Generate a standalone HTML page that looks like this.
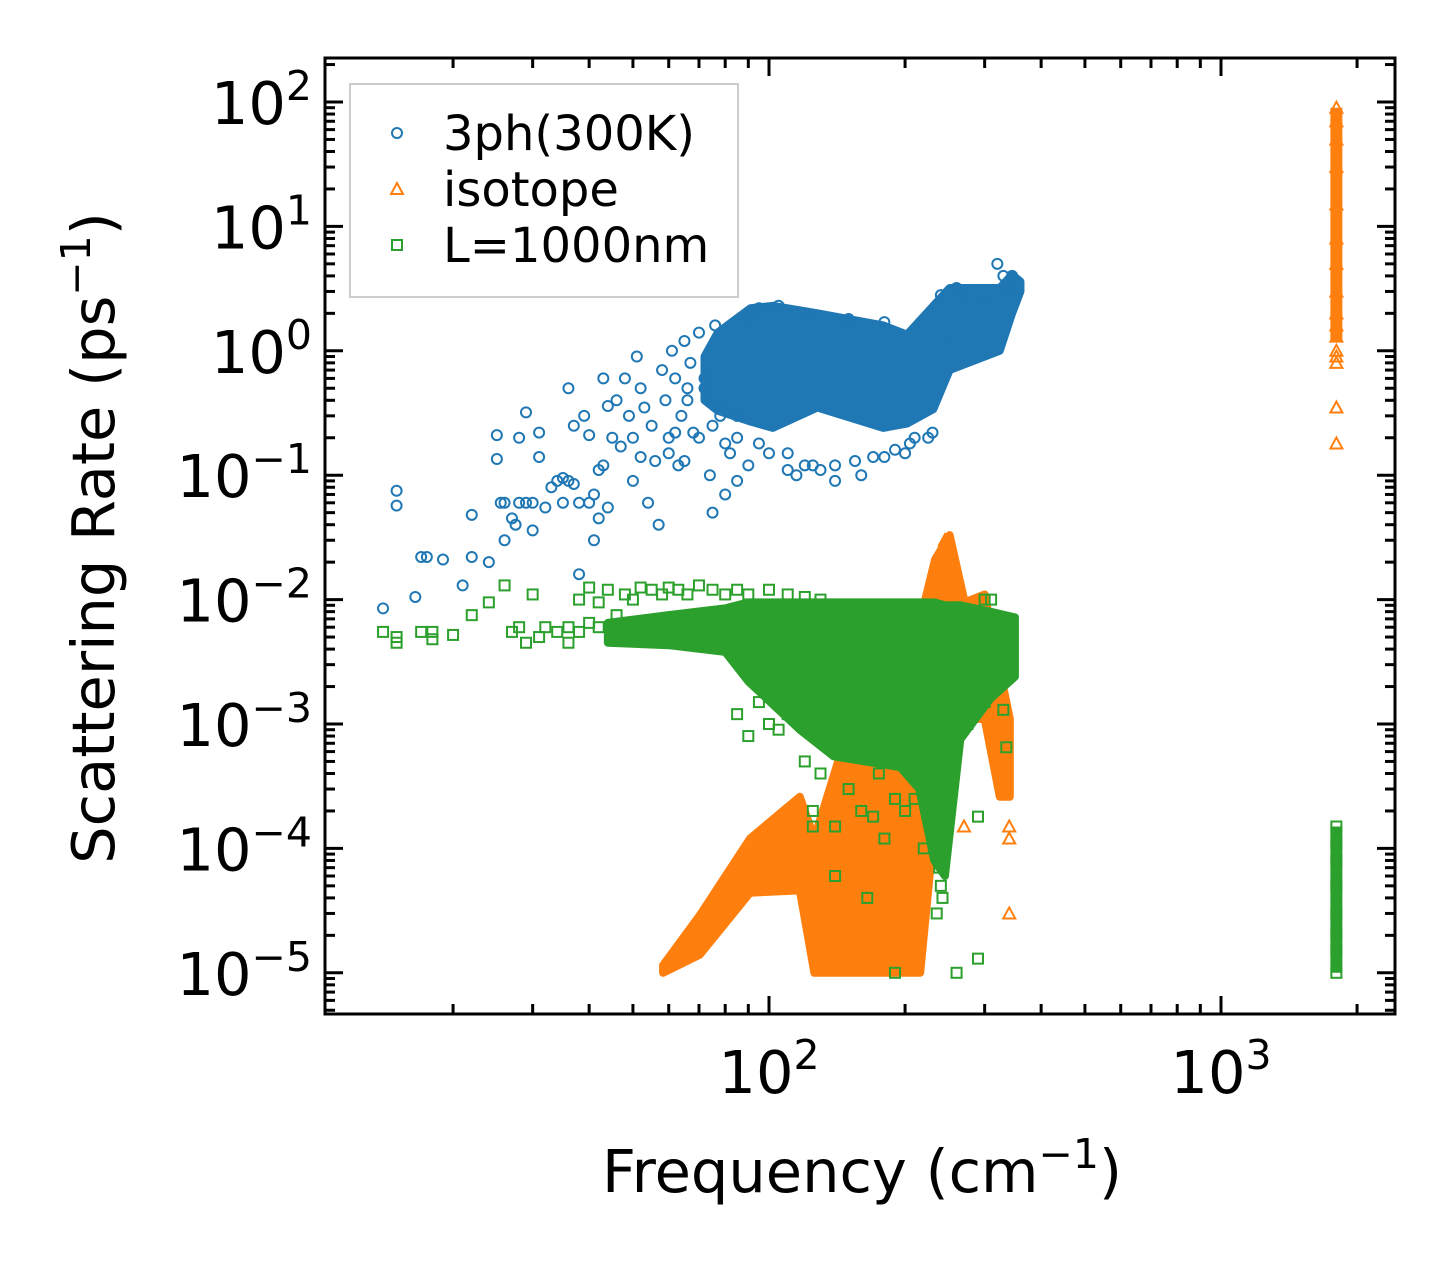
<!DOCTYPE html>
<html><head><meta charset="utf-8"><style>
body{margin:0;background:#fff}
svg text{font-family:"DejaVu Sans","Liberation Sans",sans-serif}
</style></head><body>
<svg id="chart" width="1455" height="1265" xmlns="http://www.w3.org/2000/svg">
<g id="orange-layer"></g>
<g id="blue-layer"></g>
<g id="green-layer"></g>
<g id="axes"></g>
<g>
<rect x="350" y="84" width="388" height="213" fill="#fff" fill-opacity="0.8" stroke="#ccc" stroke-width="2"/>
<circle cx="397" cy="133" r="5" fill="none" stroke="#1f77b4" stroke-width="2"/>
<text x="443" y="150" font-size="48">3ph(300K)</text>
<polygon points="397,183 403,194 391,194" fill="none" stroke="#ff7f0e" stroke-width="2"/>
<text x="443" y="206" font-size="48">isotope</text>
<rect x="392" y="240" width="10" height="10" fill="none" stroke="#2ca02c" stroke-width="2"/>
<text x="443" y="262" font-size="48">L=1000nm</text>
</g>
<text x="862" y="1192" font-size="59" text-anchor="middle">Frequency (cm<tspan dy="-24" font-size="41">−1</tspan><tspan dy="24">)</tspan></text>
<text transform="translate(114,538) rotate(-90)" font-size="59" text-anchor="middle">Scattering Rate (ps<tspan dy="-24" font-size="41">−1</tspan><tspan dy="24">)</tspan></text>
</svg>
<script>
const blueF=[14,15,15,17,17.5,16.5,19,21,22,22,24,25,25,25.5,26,26,27,27.5,28,28,29,29,30,30,31,31,32,33,34,35,35,36,36,37,37,38,38,39,40,40,41,41,42,42,43,43,44,44,45,46,47,48,49,50,50,51,52,52,53,54,55,56,57,58,59,60,61,62,63,64,65,66,67,68,70,72,74,75,76,78,80,82,85,90,95,110,115,120,130,140,160,180,200,210,230,240,260,280,300,320,330,340,105,95,120,150,180,85,90,250,270,345,60,65,70,75,80,85,66,72,78,62,100,110,125,140,155,170,190,205,225];
const blueR=[0.0085,0.075,0.057,0.022,0.022,0.0105,0.021,0.013,0.048,0.022,0.02,0.21,0.135,0.06,0.06,0.03,0.045,0.04,0.2,0.06,0.32,0.06,0.06,0.036,0.14,0.22,0.055,0.08,0.09,0.095,0.06,0.5,0.09,0.25,0.085,0.016,0.06,0.3,0.21,0.06,0.03,0.07,0.11,0.045,0.6,0.12,0.36,0.055,0.2,0.4,0.17,0.6,0.3,0.09,0.2,0.9,0.5,0.14,0.35,0.06,0.25,0.13,0.04,0.7,0.4,0.2,1.0,0.6,0.12,0.3,1.2,0.5,0.8,0.22,1.4,0.6,0.1,0.05,1.6,0.35,0.07,0.15,0.09,0.12,0.18,0.11,0.1,0.12,0.11,0.09,0.1,0.14,0.15,0.2,0.22,2.8,3.2,3,2.5,5,4,3,2.3,2.2,2.0,1.8,1.7,0.2,1.8,1.2,2.6,4,0.15,0.13,0.2,0.25,0.18,0.3,0.4,0.5,0.3,0.22,0.15,0.15,0.12,0.12,0.13,0.14,0.16,0.18,0.2];
const blueBandF=[72,77,91,102,128,179,202,231,251,324,345,360];
const blueBandTop=[0.9,1.4,2.2,2.3,2.0,1.6,1.35,2.3,3.2,3.2,4.1,3.6];
const blueBandBot=[0.4,0.33,0.27,0.24,0.35,0.24,0.26,0.34,0.7,1.0,2.0,3.0];
const greenF=[14,15,15,17,18,18,20,22,24,26,27,28,29,30,31,32,34,36,38,40,42,44,46,48,50,52,55,58,60,63,66,70,75,80,85,90,100,110,120,130,150,170,200,240,300,310,85,90,95,100,105,110,120,125,125,130,140,150,160,170,175,180,190,200,210,220,230,235,240,245,290,190,260,290,140,165,330,335,340,300,275,232,238,242,236,1800,1800,1800,1800,1800,1800,1800,1800,36,38,40,42];
const greenR=[0.0055,0.005,0.0045,0.0055,0.0048,0.0055,0.0052,0.0075,0.0095,0.013,0.0055,0.006,0.0045,0.011,0.005,0.006,0.0055,0.0045,0.01,0.0125,0.0095,0.012,0.0075,0.011,0.01,0.0125,0.012,0.011,0.0125,0.012,0.011,0.013,0.012,0.011,0.012,0.011,0.012,0.011,0.0105,0.01,0.009,0.009,0.0085,0.008,0.01,0.01,0.0012,0.0008,0.0015,0.001,0.0009,0.0012,0.0005,0.0002,0.00015,0.0004,0.00015,0.0003,0.0002,0.00018,0.0004,0.00012,0.00025,0.0002,0.00025,0.0001,0.00015,0.00003,0.00005,0.0002,0.00018,0.00001,0.00001,0.000013,0.00006,0.00004,0.0013,0.00065,0.0025,0.0015,0.001,0.0001,0.00007,0.00004,0.00012,0.00001,0.000015,0.00002,0.00003,0.00005,0.00008,0.00011,0.00015,0.006,0.0055,0.0065,0.006];
const greenBandF=[44,60,80,90,117,139,195,215,232,245,265,309,350];
const greenBandTop=[0.0065,0.0075,0.0085,0.0095,0.0095,0.0095,0.0095,0.0095,0.0095,0.009,0.009,0.008,0.0072];
const greenBandBot=[0.0045,0.0043,0.0038,0.0022,0.0009,0.00055,0.00045,0.0003,0.00008,0.00006,0.00075,0.0016,0.0024];
const orangeF=[1800,1800,1800,1800,1800,1800,1800,1800,1800,1800,1800,1800,1800,1800,1800,1800,340,340,340,330,270,245,250,200,190,180];
const orangeR=[0.18,0.35,0.8,0.9,1.0,1.3,1.6,2,3,5,8,15,30,50,70,90,0.00003,0.00012,0.00015,0.0003,0.00015,0.03,0.025,0.00002,0.000012,0.00002];
const orangeBandF=[58.3,70.3,90.8,117,126,144,176,216,233,251,271,300,324,341];
const orangeBandTop=[0.0000115,0.000029,0.00012,0.00026,0.00012,0.00058,0.0008,0.0068,0.021,0.033,0.0095,0.011,0.0027,0.0011];
const orangeBandBot=[0.00001,0.000014,0.000044,0.000046,0.00001,0.00001,0.00001,0.00001,0.00017,0.0011,0.0011,0.0011,0.00026,0.00026];
const xTickExp=["2","3"];const xTickVals=[100,1000];
const yTickVals=[100,10,1,0.1,0.01,0.001,0.0001,0.00001];const yTickExp=["2","1","0","−1","−2","−3","−4","−5"];

const NS="http://www.w3.org/2000/svg";
const L=325,R=1395,T=58,B=1014;
function px(f){return 769+452*(Math.log10(f)-2);}
function py(r){return 102-124.4*(Math.log10(r)-2);}
function mk(tag,at,parent){const e=document.createElementNS(NS,tag);for(const k in at)e.setAttribute(k,at[k]);parent.appendChild(e);return e;}
function band(F,Tp,Bt,color,g,name){let pts=F.map((f,i)=>px(f)+","+py(Tp[i]));for(let i=F.length-1;i>=0;i--)pts.push(px(F[i])+","+py(Bt[i]));
const p=mk("polygon",{points:pts.join(" "),fill:color,stroke:color,"stroke-width":8,"stroke-linejoin":"round"},g);

}
const og=document.getElementById("orange-layer"),bg=document.getElementById("blue-layer"),gg=document.getElementById("green-layer"),ax=document.getElementById("axes");
band(orangeBandF,orangeBandTop,orangeBandBot,"#ff7f0e",og,"isotope-dense-band");
const ol=mk("line",{x1:px(1800),x2:px(1800),y1:py(1.2),y2:py(90),stroke:"#ff7f0e","stroke-width":12},og);


orangeF.forEach((f,i)=>{const x=px(f),y=py(orangeR[i]);const e=mk("polygon",{points:`${x},${y-6} ${x+6},${y+5} ${x-6},${y+5}`,fill:"none",stroke:"#ff7f0e","stroke-width":2},og);

});
band(blueBandF,blueBandTop,blueBandBot,"#1f77b4",bg,"3ph-dense-band");
blueF.forEach((f,i)=>{const e=mk("circle",{cx:px(f),cy:py(blueR[i]),r:5,fill:"none",stroke:"#1f77b4","stroke-width":2},bg);

});
band(greenBandF,greenBandTop,greenBandBot,"#2ca02c",gg,"boundary-dense-band");
const gl=mk("line",{x1:px(1800),x2:px(1800),y1:py(0.00001),y2:py(0.00015),stroke:"#2ca02c","stroke-width":12},gg);


greenF.forEach((f,i)=>{const x=px(f),y=py(greenR[i]);const e=mk("rect",{x:x-5,y:y-5,width:10,height:10,fill:"none",stroke:"#2ca02c","stroke-width":2},gg);

});
const fr=mk("rect",{x:L,y:T,width:R-L,height:B-T,fill:"none",stroke:"#000","stroke-width":3},ax);


for(let d=10;d<=1000;d*=10){for(let m=1;m<10;m++){const v=d*m;const x=px(v);if(x<L||x>R)continue;const len=m===1?18:10;
mk("line",{x1:x,x2:x,y1:B,y2:B-len,stroke:"#000","stroke-width":3},ax);mk("line",{x1:x,x2:x,y1:T,y2:T+len,stroke:"#000","stroke-width":3},ax);}}
xTickVals.forEach((v,i)=>{const t=mk("text",{x:px(v),y:1093,"font-size":59,"text-anchor":"middle"},ax);t.textContent="10";


const s=mk("tspan",{dy:-24,"font-size":41},t);s.textContent=xTickExp[i];});
for(let e=-6;e<=2;e++){for(let m=1;m<10;m++){const v=Math.pow(10,e)*m;const y=py(v);if(y<T||y>B)continue;const len=m===1?18:10;
mk("line",{x1:L,x2:L+len,y1:y,y2:y,stroke:"#000","stroke-width":3},ax);mk("line",{x1:R,x2:R-len,y1:y,y2:y,stroke:"#000","stroke-width":3},ax);}}
yTickVals.forEach((v,i)=>{const t=mk("text",{x:312,y:py(v)+22,"font-size":59,"text-anchor":"end"},ax);t.textContent="10";


const s=mk("tspan",{dy:-24,"font-size":41},t);s.textContent=yTickExp[i];});
</script>
</body></html>
